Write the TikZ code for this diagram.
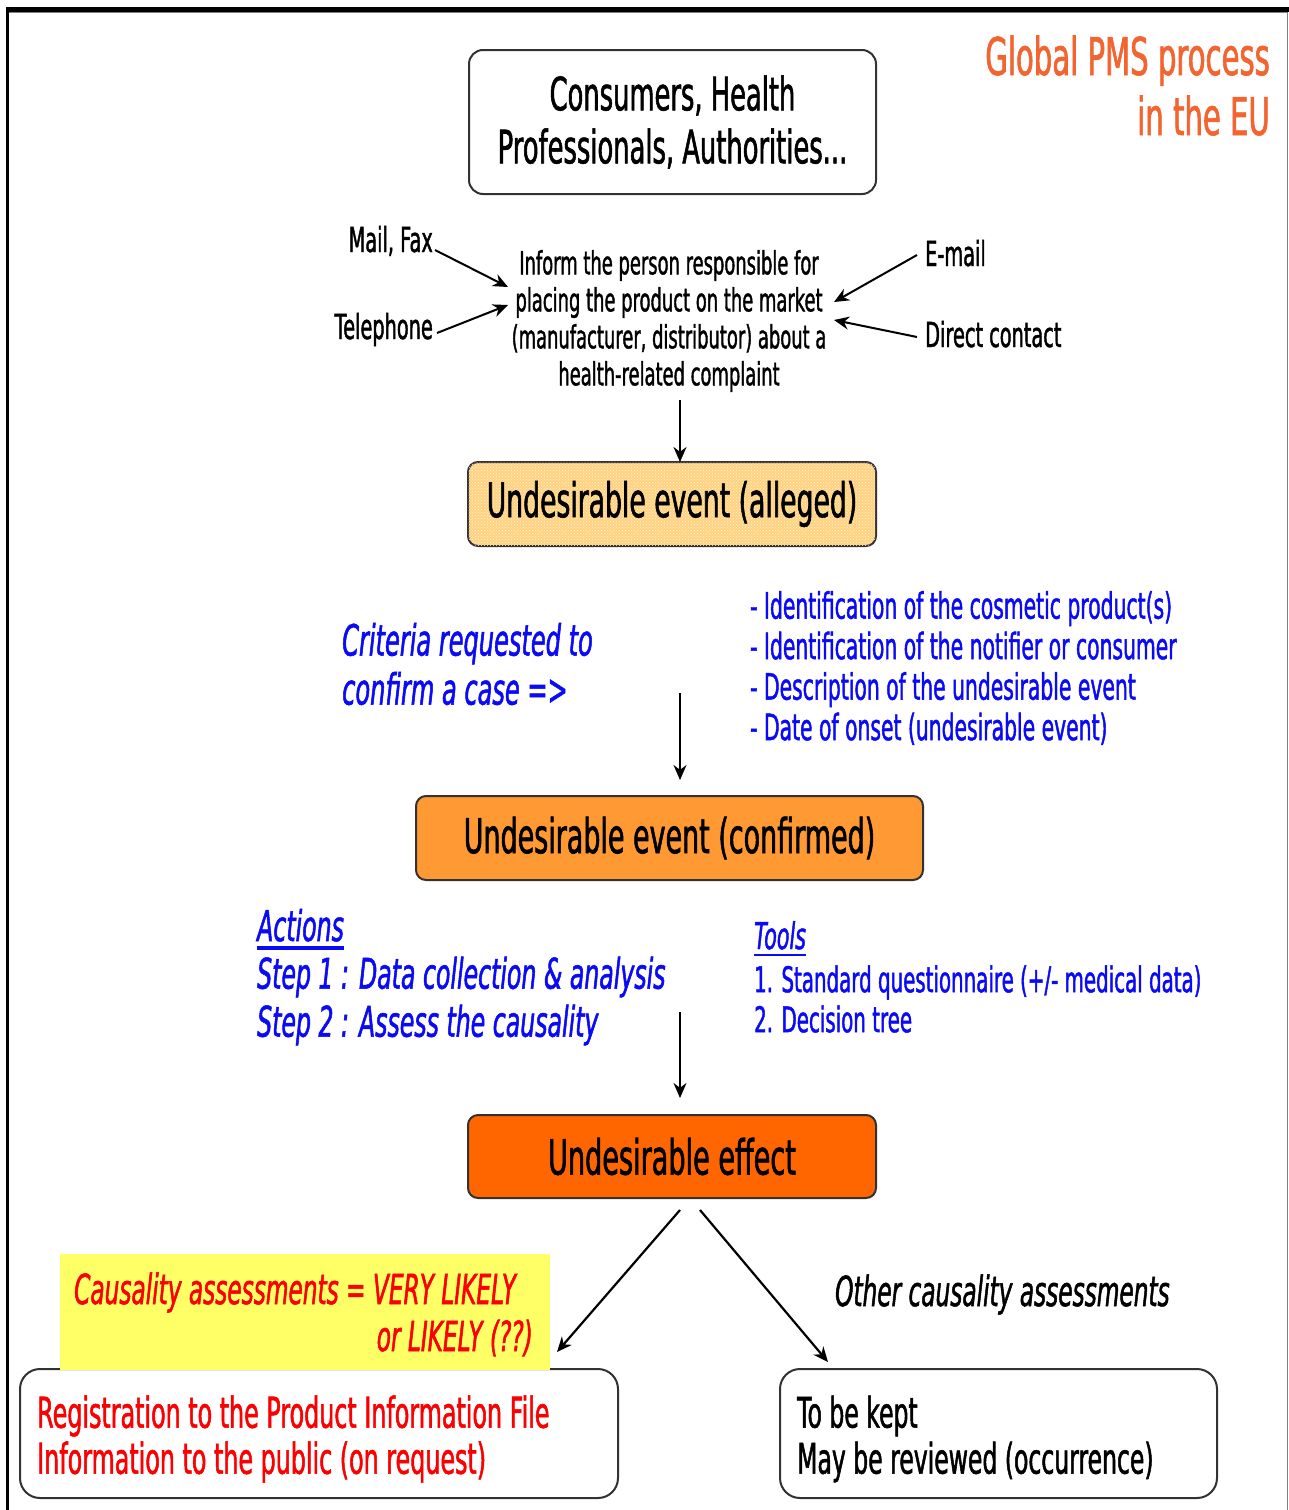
\documentclass[tikz,border=0pt]{standalone}
\usepackage{fontspec}
\setmainfont[FakeStretch=0.56,FakeBold=1.2]{DejaVu Sans}
\usetikzlibrary{arrows.meta,patterns}
\definecolor{titleor}{RGB}{242,100,48}
\definecolor{allegedfill}{RGB}{255,210,128}
\definecolor{confirmfill}{RGB}{255,153,51}
\definecolor{effectfill}{RGB}{255,102,0}
\definecolor{yellowfill}{RGB}{255,255,102}
\definecolor{txtblue}{RGB}{10,10,245}
\definecolor{txtred}{RGB}{250,0,0}
\definecolor{boxline}{RGB}{50,50,50}
\tikzset{
  box/.style={draw=boxline,line width=2pt,rounded corners=14pt,inner sep=0pt,align=center},
  arr/.style={line width=2.2pt,-{Stealth[length=15pt,width=13pt]}},
  lbl/.style={inner sep=0pt,align=left},
}
\begin{document}
\begin{tikzpicture}[x=1pt,y=-1pt]
\useasboundingbox (0,0) rectangle (1289,1510);
\fill[white] (0,0) rectangle (1289,1510);
% frame
\fill[black] (6,7) rectangle (1289,12);
\draw[gray,line width=1pt] (9,12.5) -- (1287,12.5);
\fill[black] (6,7) rectangle (9,1510);
\draw[gray,line width=1pt] (1287,12) -- (1287,1510);

% title
\node[lbl,anchor=base east,text=titleor,font=\fontsize{52}{60}\selectfont] (title1) at (1270,75) {Global PMS process};
\node[lbl,anchor=base east,text=titleor,font=\fontsize{52}{60}\selectfont] (title2) at (1270,135) {in the EU};

% top box
\node[box,minimum width=407pt,minimum height=144pt,font=\fontsize{46}{53}\selectfont] (src) at (672.5,122) {Consumers, Health\\Professionals, Authorities...};

% inform text
\node[lbl,align=center,font=\fontsize{32}{37}\selectfont] (inform) at (669,321) {Inform the person responsible for\\placing the product on the market\\(manufacturer, distributor) about a\\health-related complaint};

\node[lbl,anchor=base east,font=\fontsize{34.5}{40}\selectfont] (mail) at (433,252) {Mail, Fax};
\node[lbl,anchor=base east,font=\fontsize{34.5}{40}\selectfont] (tel) at (433,339) {Telephone};
\node[lbl,anchor=base west,font=\fontsize{34.5}{40}\selectfont] (email) at (925,266) {E-mail};
\node[lbl,anchor=base west,font=\fontsize{34.5}{40}\selectfont] (direct) at (925,347) {Direct contact};

\coordinate (mailS) at (435,250);
\coordinate (telS) at (437,333);
\coordinate (emailS) at (917,255);
\coordinate (directS) at (917,337);
\coordinate (inA) at (508,287);
\coordinate (inB) at (508,305);
\coordinate (inC) at (834,302);
\coordinate (inD) at (834,320);
\draw[line width=2pt,-{Stealth[length=15pt,width=13pt]}] (mailS) -- (inA);
\draw[line width=2pt,-{Stealth[length=15pt,width=13pt]}] (telS) -- (inB);
\draw[line width=2pt,-{Stealth[length=15pt,width=13pt]}] (emailS) -- (inC);
\draw[line width=2pt,-{Stealth[length=15pt,width=13pt]}] (directS) -- (inD);

% alleged
\node[box,rounded corners=10pt,fill=allegedfill,minimum width=408pt,minimum height=84pt,
  postaction={pattern=crosshatch dots,pattern color=white!70!allegedfill}] (alleged) at (672,504) {};
\node[font=\fontsize{47.6}{54}\selectfont,inner sep=0pt] (allegedtxt) at (alleged.center) {Undesirable event (alleged)};
\coordinate (a1s) at (680,400);
\coordinate (a1e) at (680,462);
\draw[arr] (a1s) -- (a1e);

% criteria
\node[lbl,anchor=west,text=txtblue,font=\itshape\fontsize{43}{49}\selectfont] (criteria) at (342,664) {Criteria requested to\\confirm a case =>};
\node[lbl,anchor=west,text=txtblue,font=\fontsize{36.3}{40.5}\selectfont] (list) at (750,668) {- Identification of the cosmetic product(s)\\- Identification of the notifier or consumer\\- Description of the undesirable event\\- Date of onset (undesirable event)};
\coordinate (a2s) at (680,693);
\coordinate (a2e) at (680,780);
\draw[arr] (a2s) -- (a2e);

% confirmed
\node[box,rounded corners=10pt,fill=confirmfill,minimum width=507pt,minimum height=84pt,font=\fontsize{48.1}{54}\selectfont] (confirmed) at (669.5,838) {Undesirable event (confirmed)};

% actions
\node[lbl,anchor=base west,text=txtblue,font=\itshape\fontsize{42.2}{48}\selectfont] (actions) at (257,941) {Actions};
\draw[txtblue,line width=3.5pt] ([yshift=-7pt]actions.base west) -- ([yshift=-7pt]actions.base east);
\node[lbl,anchor=west,text=txtblue,font=\itshape\fontsize{42.2}{48}\selectfont] (steps) at (257,1001) {Step 1 : Data collection \& analysis\\Step 2 : Assess the causality};

% tools
\node[lbl,anchor=base west,text=txtblue,font=\itshape\fontsize{36.8}{42}\selectfont] (tools) at (754,949) {Tools};
\draw[txtblue,line width=2.5pt] ([yshift=-6pt]tools.base west) -- ([yshift=-6pt]tools.base east);
\node[lbl,anchor=west,text=txtblue,font=\fontsize{35.4}{40}\selectfont] (toollist) at (754,999) {1. Standard questionnaire (+/- medical data)\\2. Decision tree};
\coordinate (a3s) at (680,1012);
\coordinate (a3e) at (680,1098);
\draw[arr] (a3s) -- (a3e);

% effect
\node[box,rounded corners=10pt,fill=effectfill,minimum width=408pt,minimum height=83pt,font=\fontsize{48.4}{54}\selectfont] (effect) at (672,1156.5) {Undesirable effect};

% bottom boxes
\node[box,rounded corners=20pt,minimum width=598pt,minimum height=129pt] (reg) at (319,1433.5) {};
\node[lbl,anchor=west,text=txtred,font=\fontsize{42.5}{46}\selectfont] (regtxt) at (37,1439) {Registration to the Product Information File\\Information to the public (on request)};
\node[box,rounded corners=20pt,minimum width=437pt,minimum height=129pt] (kept) at (998.5,1433.5) {};
\node[lbl,anchor=west,font=\fontsize{42}{46}\selectfont] (kepttxt) at (797,1439) {To be kept\\May be reviewed (occurrence)};

% yellow
\node[fill=yellowfill,minimum width=490pt,minimum height=116pt,inner sep=0pt] (yellow) at (305,1312) {};
\node[lbl,anchor=base west,text=txtred,font=\itshape\fontsize{41.5}{46}\selectfont] (cas1) at (74,1304) {Causality assessments = VERY LIKELY};
\node[lbl,anchor=base east,text=txtred,font=\itshape\fontsize{41.5}{46}\selectfont] (cas2) at (533,1351) {or LIKELY (??)};

\node[lbl,anchor=base west,font=\itshape\fontsize{41.5}{46}\selectfont] (other) at (835,1306) {Other causality assessments};

\coordinate (d1s) at (680,1210);
\coordinate (d1e) at (557,1352);
\coordinate (d2s) at (700,1210);
\coordinate (d2e) at (828,1362);
\draw[arr] (d1s) -- (d1e);
\draw[arr] (d2s) -- (d2e);
\end{tikzpicture}
\end{document}
